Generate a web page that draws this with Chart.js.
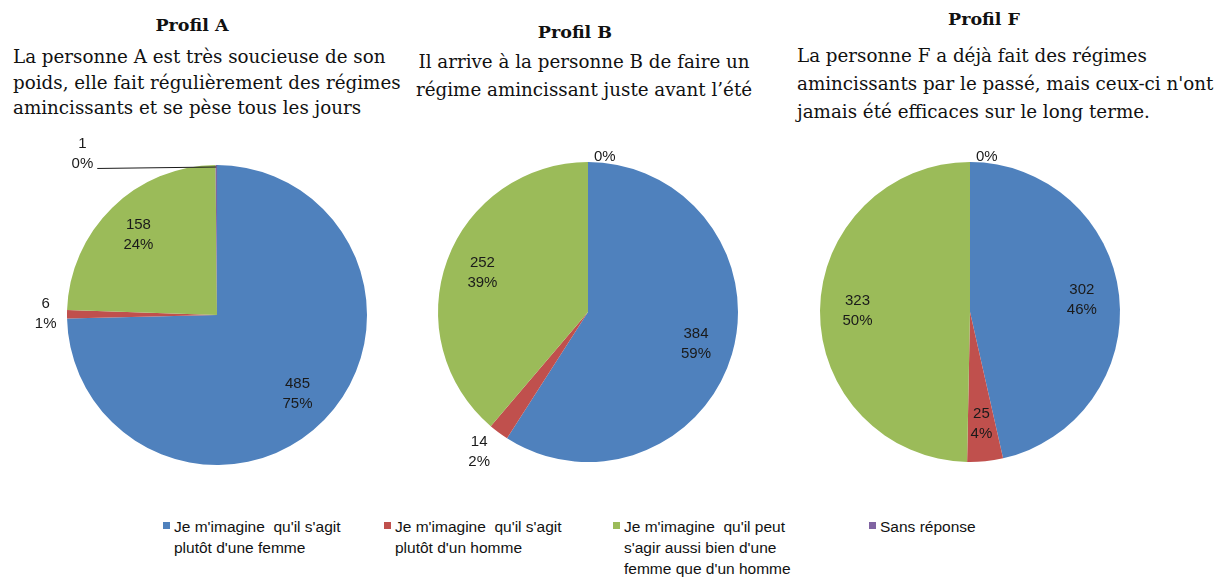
<!DOCTYPE html>
<html lang="fr">
<head>
<meta charset="utf-8">
<title>Profils</title>
<script src="https://cdn.jsdelivr.net/npm/chart.js@4.4.1/dist/chart.umd.min.js"></script>
<style>
  html, body { margin: 0; padding: 0; background: #fff; }
  body { width: 1222px; height: 577px; position: relative; overflow: hidden; }
  .pie { position: absolute; }
  .title {
    position: absolute; font-family: "DejaVu Serif", serif; font-weight: bold;
    font-size: 17.5px; line-height: 24px; color: #111; white-space: nowrap;
    transform: translateX(-50%);
  }
  .desc {
    position: absolute; font-family: "DejaVu Serif", serif; font-size: 18.3px;
    color: #111; white-space: nowrap;
  }
  .legend-item {
    position: absolute; font-family: "Liberation Sans", Arial, sans-serif;
    font-size: 15.5px; line-height: 21px; color: #111;
  }
  .legend-item .box {
    position: absolute; left: 0; top: 6px; width: 7px; height: 7px;
  }
  .legend-item .txt { margin-left: 11px; white-space: pre; }
</style>
</head>
<body>

<div class="title" style="left:192px; top:13px;">Profil A</div>
<div class="desc" style="left:13px; top:44px; line-height:25.5px;">La personne A est très soucieuse de son<br>poids, elle fait régulièrement des régimes<br>amincissants et se pèse tous les jours</div>

<div class="title" style="left:575px; top:20px;">Profil B</div>
<div class="desc" style="left:584px; top:48px; line-height:28px; text-align:center; transform:translateX(-50%);">Il arrive à la personne B de faire un<br>régime amincissant juste avant l’été</div>

<div class="title" style="left:984px; top:7px;">Profil F</div>
<div class="desc" style="left:797px; top:42px; line-height:28px;">La personne F a déjà fait des régimes<br>amincissants par le passé, mais ceux-ci n'ont<br>jamais été efficaces sur le long terme.</div>

<canvas id="pieA" class="pie" width="400" height="400" style="left:17px; top:115px;"></canvas>
<canvas id="pieB" class="pie" width="400" height="400" style="left:388px; top:112px;"></canvas>
<canvas id="pieF" class="pie" width="400" height="400" style="left:770px; top:112px;"></canvas>

<div id="legend"></div>

<script>
/* ── DATA ───────────────────────────────────────── */
const categories = [
  ["Je m'imagine  qu'il s'agit", "plutôt d'une femme"],
  ["Je m'imagine  qu'il s'agit", "plutôt d'un homme"],
  ["Je m'imagine  qu'il peut", "s'agir aussi bien d'une", "femme que d'un homme"],
  ["Sans réponse"],
];
const profilA = [485, 6, 158, 1];
const profilB = [384, 14, 252, 0];
const profilF = [302, 25, 323, 0];

const colors = ["#4F81BD", "#C0504D", "#9BBB59", "#8064A2"];

/* ── LABEL PLUGIN ───────────────────────────────── */
// value + percent, inside big slices, outside small ones (Excel "best fit"-ish)
const pieLabels = {
  id: "pieLabels",
  afterDatasetsDraw(chart, args, opts) {
    const ctx = chart.ctx;
    const ds = chart.data.datasets[0];
    const total = ds.data.reduce((s, v) => s + v, 0);
    const meta = chart.getDatasetMeta(0);
    const lh = 20;
    ctx.save();
    ctx.font = "15px 'Liberation Sans', Arial, sans-serif";
    ctx.fillStyle = "#1a1a1a";
    ctx.strokeStyle = "#1a1a1a";
    ctx.textAlign = "center";
    ctx.textBaseline = "middle";

    meta.data.forEach((arc, i) => {
      const v = ds.data[i];
      const pct = Math.round((v / total) * 100) + "%";
      const lines = v > 0 ? [String(v), pct] : [pct];
      const p = arc.getProps(["x", "y", "startAngle", "endAngle", "outerRadius"], true);
      const mid = (p.startAngle + p.endAngle) / 2;
      const cos = Math.cos(mid);
      const sin = Math.sin(mid);
      const r = p.outerRadius;
      const w = Math.max(...lines.map((l) => ctx.measureText(l).width));
      const h = lines.length * lh - 6;
      let cx, cy;

      if (v / total >= 0.03) {
        cx = p.x + cos * r * 0.75;
        cy = p.y + sin * r * 0.75;
      } else {
        const px = p.x + cos * r * 1.03;
        const py = p.y + sin * r * 1.03;
        cx = px + (cos >= -1e-6 ? 1 : -1) * (w / 2 + 6);
        cy = py + sin * (h / 2) + 6 * (1 - Math.abs(cos));
      }

      const shift = (opts.shift || {})[i];
      if (shift) {
        cx += shift[0];
        cy += shift[1];
        // leader line back to the slice
        const lastY = cy - (lines.length * lh) / 2 + lh / 2 + (lines.length - 1) * lh;
        ctx.lineWidth = 1;
        ctx.beginPath();
        ctx.moveTo(cx + w / 2 + 4, lastY + 5);
        ctx.lineTo(p.x + cos * r, p.y + sin * r + 2);
        ctx.stroke();
      }

      lines.forEach((l, k) => {
        ctx.fillText(l, cx, cy - (lines.length * lh) / 2 + lh / 2 + k * lh);
      });
    });
    ctx.restore();
  },
};

/* ── CHARTS ─────────────────────────────────────── */
function makePie(id, values, labelOpts) {
  return new Chart(document.getElementById(id), {
    type: "pie",
    data: {
      labels: categories.map((c) => c.join(" ")),
      datasets: [
        {
          data: values,
          backgroundColor: colors,
          borderWidth: 0,
        },
      ],
    },
    options: {
      responsive: false,
      animation: false,
      layout: { padding: 50 },
      plugins: {
        legend: { display: false },
        tooltip: { enabled: false },
        pieLabels: labelOpts || {},
      },
    },
    plugins: [pieLabels],
  });
}

makePie("pieA", profilA, { shift: { 3: [-117, 4] } });
makePie("pieB", profilB);
makePie("pieF", profilF);

/* ── LEGEND ─────────────────────────────────────── */
const legendLeft = [163, 384, 613, 869];
const legendEl = document.getElementById("legend");
categories.forEach((lines, i) => {
  const div = document.createElement("div");
  div.className = "legend-item";
  div.style.left = legendLeft[i] + "px";
  div.style.top = "516px";
  div.innerHTML =
    `<span class="box" style="background:${colors[i]}"></span>` +
    `<div class="txt">${lines.join("<br>")}</div>`;
  legendEl.appendChild(div);
});
</script>
</body>
</html>
